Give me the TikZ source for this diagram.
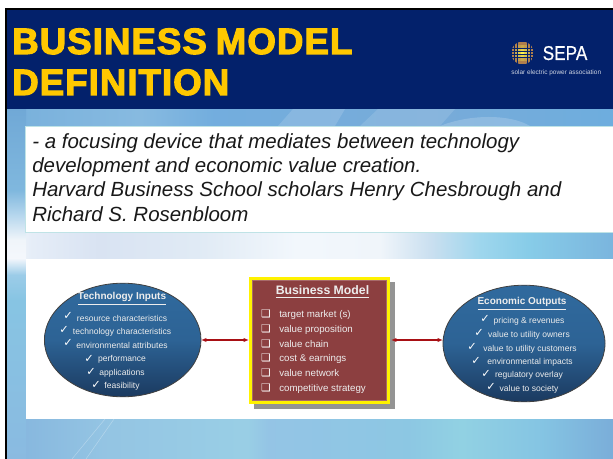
\documentclass[tikz,border=0pt]{standalone}
\usepackage{fontspec}
\setmainfont{Liberation Sans}
\newfontfamily\symfont{DejaVu Sans}
\newfontfamily\titlefont[FakeBold=3,LetterSpace=2.8,WordSpace=0.8]{Liberation Sans Bold}
\newfontfamily\logofont[FakeBold=0.6]{Liberation Sans}
\usetikzlibrary{arrows.meta}
\definecolor{navy}{HTML}{03216B}
\definecolor{gold}{HTML}{FFC800}
\definecolor{skyA}{HTML}{74ACDC}
\definecolor{boxred}{HTML}{8C3F40}
\definecolor{boxedge}{HTML}{A86A6A}
\definecolor{arrowred}{HTML}{A80F14}
\definecolor{ellTop}{HTML}{306A9E}
\definecolor{ellBot}{HTML}{1B3A60}
\definecolor{softtext}{HTML}{EDEDED}
\definecolor{tbord}{HTML}{BFE3E6}
\pgfdeclarehorizontalshading{bandshade}{100bp}{
 rgb(0bp)=(.97,.98,.99); rgb(25bp)=(.97,.98,.99);
 rgb(27bp)=(.90,.93,.97); rgb(32.6bp)=(.85,.89,.95);
 rgb(41bp)=(.88,.92,.96); rgb(49bp)=(.95,.97,.99); rgb(55.8bp)=(.94,.96,.98);
 rgb(60bp)=(.79,.875,.94); rgb(64bp)=(.62,.84,.93); rgb(68bp)=(.53,.80,.91);
 rgb(75bp)=(.48,.71,.87); rgb(100bp)=(.48,.71,.87)}
\pgfdeclareverticalshading{stripshade}{100bp}{
 rgb(0bp)=(.54,.73,.88); rgb(25bp)=(.54,.73,.88); rgb(47.7bp)=(.53,.77,.89);
 rgb(51.3bp)=(.61,.80,.91); rgb(53.7bp)=(.96,.97,.99); rgb(56.3bp)=(.94,.96,.98);
 rgb(59.9bp)=(.71,.84,.93); rgb(63.4bp)=(.50,.72,.87); rgb(75bp)=(.44,.66,.84); rgb(100bp)=(.44,.66,.84)}
\pgfdeclarehorizontalshading{footshade}{100bp}{
 rgb(0bp)=(.52,.71,.87); rgb(25bp)=(.52,.71,.87); rgb(33bp)=(.58,.77,.89); rgb(44.8bp)=(.60,.81,.90);
 rgb(46.5bp)=(.58,.77,.90); rgb(58bp)=(.55,.78,.89); rgb(62.5bp)=(.57,.82,.89); rgb(69bp)=(.52,.77,.89);
 rgb(75bp)=(.48,.68,.85); rgb(100bp)=(.48,.68,.85)}
\pgfdeclarehorizontalshading{topshade}{100bp}{
 rgb(0bp)=(.47,.69,.86); rgb(25bp)=(.47,.69,.86); rgb(36bp)=(.53,.73,.88); rgb(42bp)=(.45,.68,.87);
 rgb(60bp)=(.47,.67,.85); rgb(75bp)=(.43,.68,.87); rgb(100bp)=(.43,.68,.87)}
\tikzset{
  x=0.75pt,y=-0.75pt,
  titletext/.style={anchor=base west,inner sep=0,text=gold,font=\titlefont\fontsize{27.5pt}{30pt}\selectfont},
  bodytext/.style={anchor=base west,inner sep=0,text=black!90,font=\itshape\fontsize{15.35pt}{18pt}\selectfont},
  ell/.style={draw=black!75,line width=0.6pt,shade,top color=ellTop,bottom color=ellBot,middle color=ellTop!85!ellBot},
  elltitle/.style={anchor=base,inner sep=0,text=softtext,font=\bfseries\fontsize{7.5pt}{8pt}\selectfont},
  elltext/.style={anchor=base,inner sep=0,text=softtext,font=\fontsize{6.4pt}{7pt}\selectfont},
  tick/.style={anchor=base,inner sep=0,text=white,font=\symfont\fontsize{8.5pt}{9pt}\selectfont},
  boxtext/.style={anchor=base west,inner sep=0,text=softtext,font=\fontsize{7.3pt}{8pt}\selectfont},
  boxmark/.style={anchor=base,inner sep=0,text=white,font=\symfont\fontsize{8pt}{9pt}\selectfont},
  link/.style={draw=arrowred,line width=0.9pt,{Latex[length=4pt,width=3.2pt]}-{Latex[length=4pt,width=3.2pt]}},
}
\begin{document}
\begin{tikzpicture}
\useasboundingbox (0,0) rectangle (613,459);
\fill[white] (0,0) rectangle (613,459);
\clip (0,0) rectangle (613,459);
% background
\fill[skyA] (5,109) rectangle (613,459);
\shade[shading=topshade] (7,109) rectangle (613,126);
\fill[white,opacity=.14] (278,126) -- (293,109) -- (345,109) -- (335,126) -- cycle;
\fill[white,opacity=.12] (360,126) -- (378,109) -- (455,109) -- (440,126) -- cycle;
\fill[white,opacity=.18] (440,126) .. controls (470,114) and (510,114) .. (530,126) -- cycle;
\shade[shading=bandshade] (7,233) rectangle (613,259);
\shade[shading=footshade] (7,419) rectangle (613,459);
\draw[white,opacity=.3,line width=.4pt] (72,459) -- (105,419);
\draw[white,opacity=.3,line width=.4pt] (86,459) -- (114,419);
\shade[shading=stripshade] (7,109) rectangle (26,459);
% frame and header
\fill[navy] (5,9) rectangle (613,109);
\fill[black] (5,8) rectangle (613,10);
\fill[black] (5,8) rectangle (7,459);
\node[titletext] (title1) at (12,54) {BUSINESS MODEL};
\node[titletext] (title2) at (12,95) {DEFINITION};
% logo
\begin{scope}
  \clip (522.5,53) circle (11.5);
  \foreach \i in {-3,...,3} \foreach \j in {-3,...,3} {
    \pgfmathsetmacro{\mixv}{min(100,sqrt(\i*\i+\j*\j)*34)}
    \fill[black!45!orange!\mixv!yellow!70!white] (522.5+\i*3.2-1.25,53+\j*3.2-1.25) rectangle ++(2.5,2.5);
  }
\end{scope}
\node[anchor=base west,inner sep=0,text=white,font=\logofont\fontsize{15pt}{16pt}\selectfont,xscale=.86] (sepa) at (542.5,60) {SEPA};
\node[anchor=base west,inner sep=0,text=white!80!navy,font=\fontsize{4.85pt}{5pt}\selectfont] (sepasub) at (511,74.5) {solar electric power association};
% text panel
\fill[white,draw=tbord,line width=1pt] (25.5,126.5) rectangle (620,232.5);
\node[bodytext] (b1) at (32,149) {- a focusing device that mediates between technology};
\node[bodytext] (b2) at (32,173) {development and economic value creation.};
\node[bodytext] (b3) at (32,197) {Harvard Business School scholars Henry Chesbrough and};
\node[bodytext] (b4) at (32,222) {Richard S. Rosenbloom};
% diagram panel
\fill[white] (26,259) rectangle (613,419);
% ellipses
\path[ell] (122.7,340) ellipse (78.3 and 56.8);
\coordinate (lin) at (201,340);
\node[elltitle] (tI) at (122,300) {\underline{Technology Inputs}};
\node[elltext] at (122,321) (l1) {resource characteristics};
\node[elltext] at (122,334.5) (l2) {technology characteristics};
\node[elltext] at (122,348) (l3) {environmental attributes};
\node[elltext] at (122,361.5) (l4) {performance};
\node[elltext] at (122,375) (l5) {applications};
\node[elltext] at (122,388) (l6) {feasibility};
\node[tick] (lc1) at (68,320) {✓};
\node[tick] (lc2) at (64,333) {✓};
\node[tick] (lc3) at (68,346) {✓};
\node[tick] (lc4) at (89,362) {✓};
\node[tick] (lc5) at (91,375) {✓};
\node[tick] (lc6) at (96,388) {✓};
\path[ell] (524,343.5) ellipse (81 and 58.3);
\coordinate (rin) at (443,340);
\node[elltitle] (tO) at (522,305) {\underline{Economic Outputs}};
\node[elltext] at (529,323) (r1) {pricing \& revenues};
\node[elltext] at (529,337) (r2) {value to utility owners};
\node[elltext] at (530,351) (r3) {value to utility customers};
\node[elltext] at (530,364) (r4) {environmental impacts};
\node[elltext] at (529,377.5) (r5) {regulatory overlay};
\node[elltext] at (529,391) (r6) {value to society};
\node[tick] (rc1) at (485,322) {✓};
\node[tick] (rc2) at (479,336) {✓};
\node[tick] (rc3) at (472,350) {✓};
\node[tick] (rc4) at (476,364) {✓};
\node[tick] (rc5) at (486,377) {✓};
\node[tick] (rc6) at (491,390) {✓};
% centre box
\fill[black!42] (254,282) rectangle (395,409);
\fill[yellow] (249,277) rectangle (390,404);
\fill[boxred,draw=boxedge,line width=1pt] (252.5,280.5) rectangle (386.5,400.5);
\coordinate (bl) at (249,340);
\coordinate (br) at (391,340);
\node[anchor=base,inner sep=0,text=softtext,font=\bfseries\fontsize{9.2pt}{11pt}\selectfont] (bt) at (322.5,295) {\underline{Business Model}};
\node[boxtext] (i1) at (279,317.5) {target market (s)};
\node[boxtext] (i2) at (279,332.5) {value proposition};
\node[boxtext] (i3) at (279,347.5) {value chain};
\node[boxtext] (i4) at (279,361.5) {cost \& earnings};
\node[boxtext] (i5) at (279,376.5) {value network};
\node[boxtext] (i6) at (279,391) {competitive strategy};
\node[boxmark] (m1) at (266,317.5) {❑};
\node[boxmark] (m2) at (266,332.5) {❑};
\node[boxmark] (m3) at (266,347.5) {❑};
\node[boxmark] (m4) at (266,361.5) {❑};
\node[boxmark] (m5) at (266,376.5) {❑};
\node[boxmark] (m6) at (266,391) {❑};
\draw[link] (lin) -- (bl);
\draw[link] (br) -- (rin);
\end{tikzpicture}
\end{document}
